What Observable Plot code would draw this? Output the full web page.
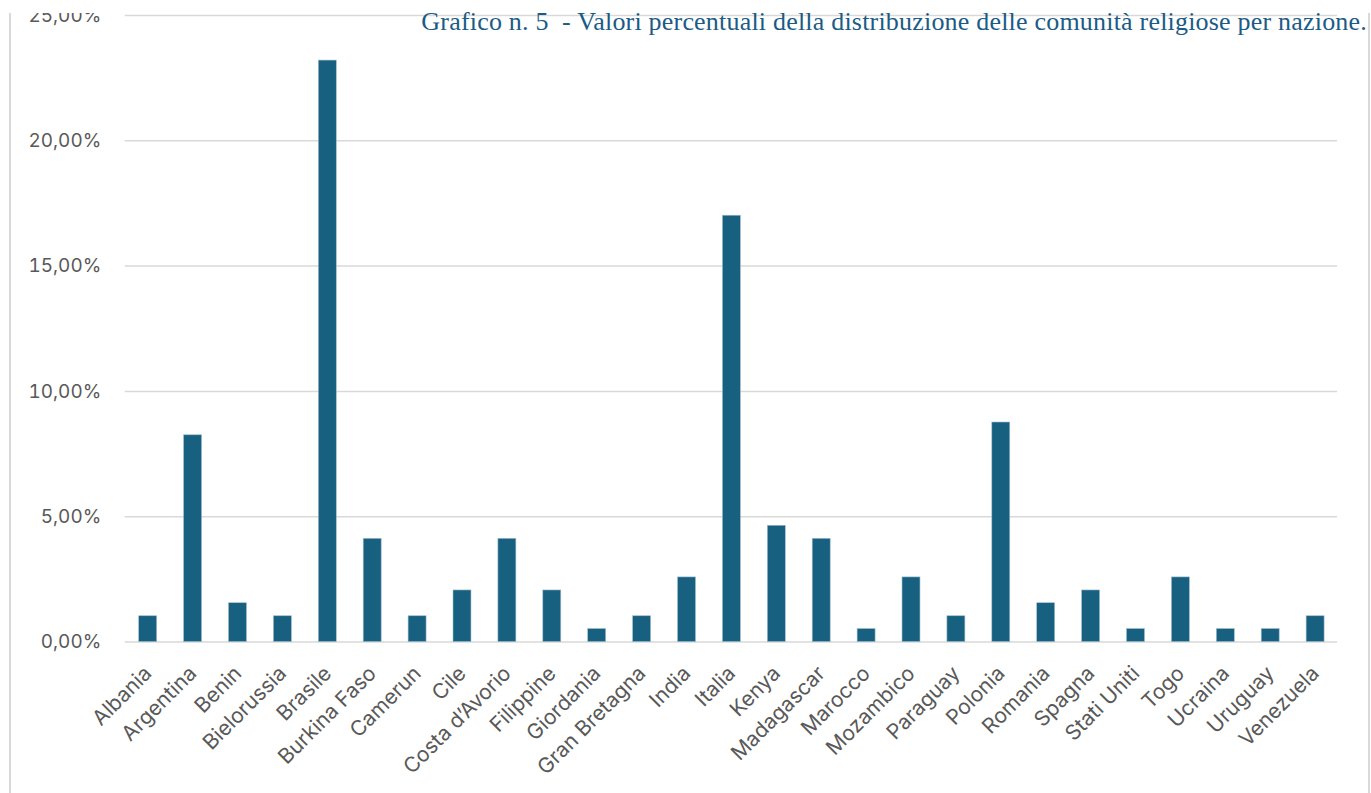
<!DOCTYPE html>
<html>
<head>
<meta charset="utf-8">
<script src="https://cdn.jsdelivr.net/npm/d3@7"></script>
<script src="https://cdn.jsdelivr.net/npm/@observablehq/plot@0.6"></script>
<style>
  html, body { margin: 0; padding: 0; background: #fff; width: 1371px; height: 793px; overflow: hidden; }
  #frame { position: absolute; left: 9px; top: 13px; width: 1357px; height: 800px;
           border-left: 2px solid #d9d9d9; border-right: 2px solid #d9d9d9; overflow: hidden; }
  #chart { position: absolute; left: -11px; top: -13px; }
  #title { position: absolute; right: 4px; top: 7px; font-family: "Liberation Serif", serif;
           font-size: 26px; letter-spacing: 0.2px; color: #1b5b85; white-space: pre; z-index: 2; }
</style>
</head>
<body>
<div id="frame"><div id="chart"></div></div>
<div id="title">Grafico n. 5  - Valori percentuali della distribuzione delle comunità religiose per nazione.</div>
<script>
const nazioni = ["Albania","Argentina","Benin","Bielorussia","Brasile","Burkina Faso","Camerun","Cile","Costa d’Avorio","Filippine","Giordania","Gran Bretagna","India","Italia","Kenya","Madagascar","Marocco","Mozambico","Paraguay","Polonia","Romania","Spagna","Stati Uniti","Togo","Ucraina","Uruguay","Venezuela"];
const valori = [1.03, 8.25, 1.55, 1.03, 23.20, 4.12, 1.03, 2.06, 4.12, 2.06, 0.52, 1.03, 2.58, 17.01, 4.64, 4.12, 0.52, 2.58, 1.03, 8.76, 1.55, 2.06, 0.52, 2.58, 0.52, 0.52, 1.03];
const yTicks = [0, 5, 10, 15, 20, 25];

const data = nazioni.map((n, i) => ({nazione: n, valore: valori[i]}));
const font = "Inter, 'Open Sans', sans-serif";

const plot = Plot.plot({
  width: 1371,
  height: 793,
  marginTop: 15,
  marginBottom: 150,
  marginLeft: 125,
  marginRight: 31,
  style: {fontFamily: font, background: "transparent"},
  x: {domain: nazioni, paddingInner: 0.6, paddingOuter: 0.3, label: null},
  y: {domain: [0, 25], label: null},
  marks: [
    Plot.gridY(yTicks, {stroke: "#d9d9d9", strokeOpacity: 1, strokeWidth: 1.5}),
    Plot.barY(data, {x: "nazione", y: "valore", fill: "#17607f", stroke: "#9fbccb", strokeWidth: 0.6}),
    Plot.axisY(yTicks, {tickSize: 0, tickPadding: 24, fontSize: 19, fill: "#595959", label: null,
      tickFormat: d => d.toFixed(2).replace(".", ",") + "%"}),
    Plot.axisX({tickSize: 0, tickPadding: 28, tickRotate: -45, fontSize: 21, fill: "#595959", label: null})
  ]
});
document.getElementById("chart").appendChild(plot);
</script>
</body>
</html>
